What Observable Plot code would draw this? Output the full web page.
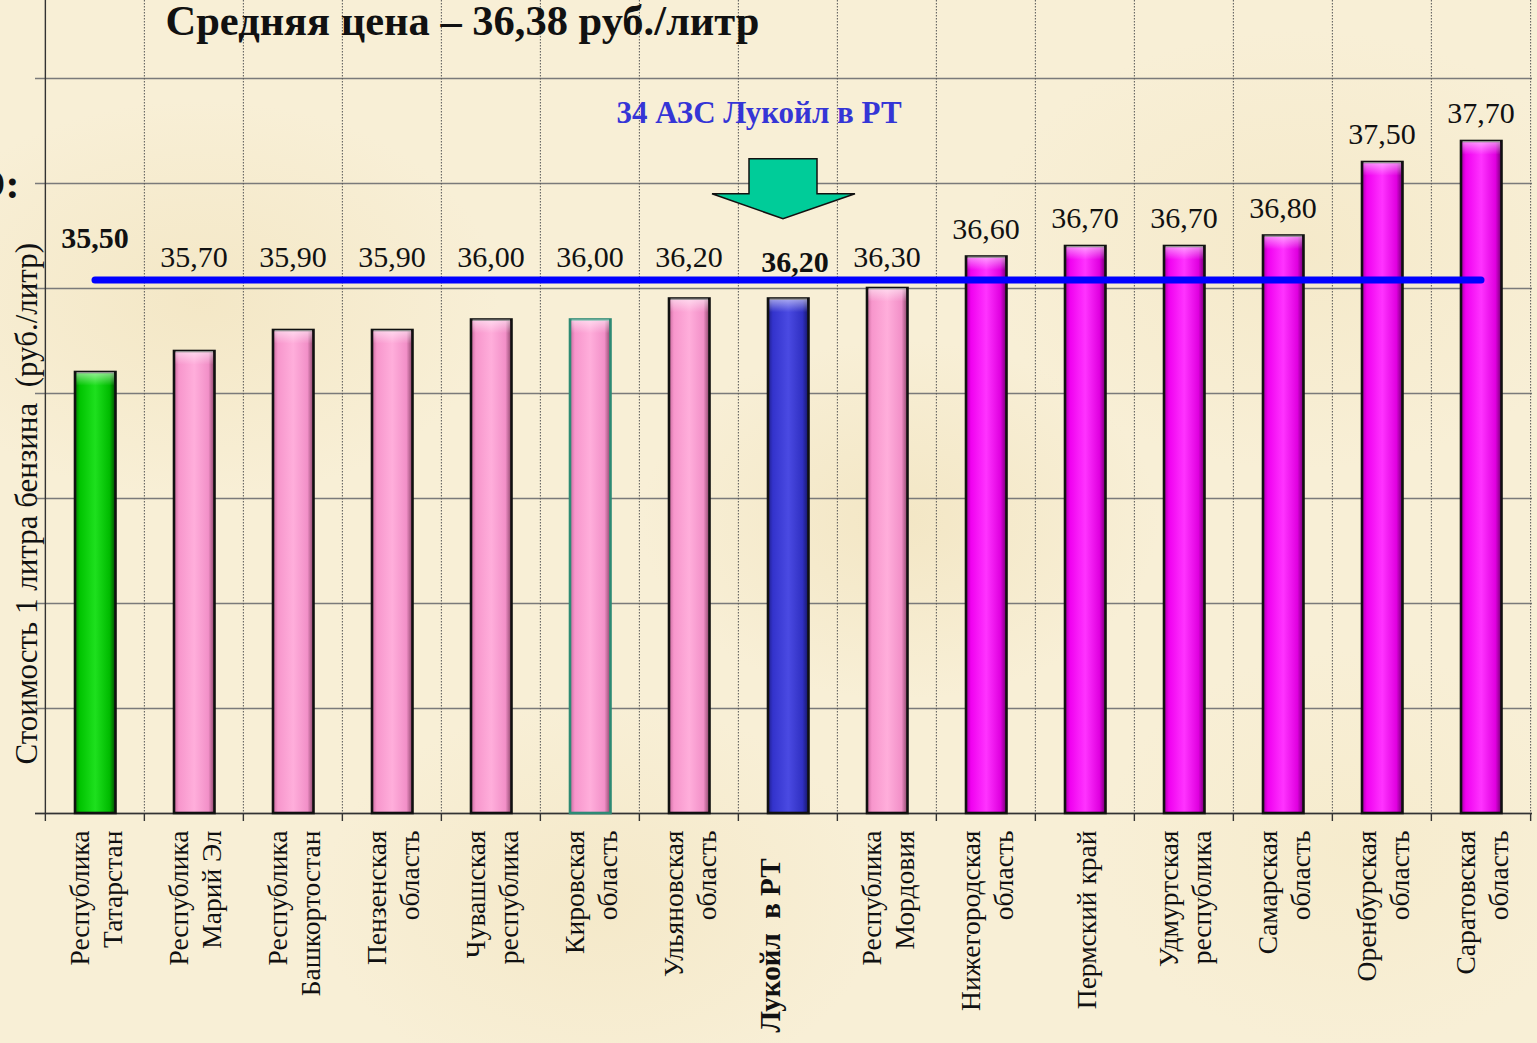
<!DOCTYPE html>
<html>
<head>
<meta charset="utf-8">
<script src="https://cdn.jsdelivr.net/npm/d3@7"></script>
<script src="https://cdn.jsdelivr.net/npm/@observablehq/plot@0.6"></script>
<style>
  html, body { margin: 0; padding: 0; overflow: hidden; }
  body {
    width: 1537px; height: 1043px;
    background-color: #f8efd6;
    background-image:
      radial-gradient(ellipse 300px 200px at 200px 300px, rgba(240,225,185,0.55), rgba(240,225,185,0)),
      radial-gradient(ellipse 260px 180px at 900px 520px, rgba(238,222,180,0.5), rgba(238,222,180,0)),
      radial-gradient(ellipse 320px 220px at 1300px 250px, rgba(242,228,190,0.5), rgba(242,228,190,0)),
      radial-gradient(ellipse 280px 200px at 600px 900px, rgba(240,225,185,0.45), rgba(240,225,185,0)),
      radial-gradient(ellipse 250px 200px at 1350px 850px, rgba(244,232,196,0.5), rgba(244,232,196,0));
  }
  #chart svg { display: block; overflow: visible; }
</style>
</head>
<body>
<div id="chart"></div>
<script>
// ---- data ----
const categories = [
  "Республика\nТатарстан",
  "Республика\nМарий Эл",
  "Республика\nБашкортостан",
  "Пензенская\nобласть",
  "Чувашская\nреспублика",
  "Кировская\nобласть",
  "Ульяновская\nобласть",
  "Лукойл  в РТ",
  "Республика\nМордовия",
  "Нижегородская\nобласть",
  "Пермский край",
  "Удмуртская\nреспублика",
  "Самарская\nобласть",
  "Оренбурская\nобласть",
  "Саратовская\nобласть"
];
const prices = [35.50, 35.70, 35.90, 35.90, 36.00, 36.00, 36.20, 36.20, 36.30, 36.60, 36.70, 36.70, 36.80, 37.50, 37.70];
const groups = ["РТ", "ниже", "ниже", "ниже", "ниже", "ниже", "ниже", "Лукойл", "ниже", "выше", "выше", "выше", "выше", "выше", "выше"];
const averagePrice = 36.38;
const yTicks = [31.3, 32.3, 33.3, 34.3, 35.3, 36.3, 37.3, 38.3];
const chartTitle = "Средняя цена – " + averagePrice.toFixed(2).replace(".", ",") + " руб./литр";
const yTitle = "Стоимость 1 литра бензина  (руб./литр)";
const noteText = "34 АЗС Лукойл в РТ";
const cutText = "О:";

const data = categories.map((c, i) => ({cat: c, value: prices[i], group: groups[i], i}));

// ---- layout ----
const W = 1537, H = 1043;
const mL = 43, mR = 5, mT = 0, mB = 230;
const bw = (W - mL - mR) / categories.length;
const pxPerUnit = 105;
const yMin = 31.3, yMax = yMin + (H - mB - mT) / pxPerUnit;

const serif = "'Liberation Serif', 'DejaVu Serif', serif";
const fmt = v => v.toFixed(2).replace(".", ",");
const gradId = {"РТ": "url(#gGreen)", "ниже": "url(#gPink)", "Лукойл": "url(#gBlue)", "выше": "url(#gMag)"};
const labelY = d => d.value >= 36.6 ? d.value + 0.265 : 36.6;

const barMarks = Object.keys(gradId).map(g =>
  Plot.barY(data.filter(d => d.group === g), {
    x: "cat", y1: yMin, y2: "value",
    insetLeft: 30, insetRight: 28.5,
    fill: gradId[g],
    stroke: d => d.i === 5 ? "#2d8a74" : "#111",
    strokeWidth: 2.6
  })
);

const arrowSymbol = {
  draw(ctx) {
    ctx.moveTo(-34, -30);
    ctx.lineTo(34, -30);
    ctx.lineTo(34, 5);
    ctx.lineTo(72, 5);
    ctx.lineTo(0, 30);
    ctx.lineTo(-71, 5);
    ctx.lineTo(-34, 5);
    ctx.closePath();
  }
};

const chart = Plot.plot({
  width: W, height: H,
  marginLeft: mL, marginRight: mR, marginTop: mT, marginBottom: mB,
  style: {background: "transparent", fontFamily: serif, overflow: "visible"},
  x: {domain: categories, padding: 0, axis: null},
  y: {domain: [yMin, yMax], axis: null},
  marks: [
    Plot.ruleY(yTicks, {stroke: "#7a7a7a", strokeWidth: 1.6, insetLeft: -8}),
    Plot.ruleX(categories.slice(1), {x: d => d, dx: -bw / 2, stroke: "#555", strokeWidth: 1, strokeDasharray: "1.5,1.5"}),
    Plot.ruleX([categories[categories.length - 1]], {x: d => d, dx: bw / 2, stroke: "#555", strokeWidth: 1, strokeDasharray: "1.5,1.5"}),
    Plot.ruleX([categories[0]], {x: d => d, dx: -bw / 2, stroke: "#333", strokeWidth: 1.4}),
    Plot.ruleX(categories, {x: d => d, dx: -bw / 2, y1: yMin, y2: yMin, insetBottom: -8, stroke: "#333", strokeWidth: 1.4}),
    Plot.ruleX([categories[categories.length - 1]], {x: d => d, dx: bw / 2, y1: yMin, y2: yMin, insetBottom: -8, stroke: "#333", strokeWidth: 1.4}),
    Plot.ruleY([yMin], {stroke: "#333", strokeWidth: 1.6, insetLeft: -8}),
    ...barMarks,
    Plot.rectY(data, {x: "cat", y1: "value", y2: d => d.value - 0.13, insetLeft: 31.5, insetRight: 30, fill: "url(#gBevel)"}),
    Plot.lineY(categories, {x: d => d, y: () => averagePrice, stroke: "#0000ff", strokeWidth: 7, strokeLinecap: "round"}),
    Plot.text(data.filter(d => d.i !== 0 && d.i !== 7), {x: "cat", y: labelY, text: d => fmt(d.value), fontSize: 30, fill: "#111"}),
    Plot.text(data.filter(d => d.i === 0), {x: "cat", y: labelY, text: d => fmt(d.value), fontSize: 30, fontWeight: "bold", fill: "#111", dy: -19}),
    Plot.text(data.filter(d => d.i === 7), {x: "cat", y: labelY, text: d => fmt(d.value), fontSize: 30, fontWeight: "bold", fill: "#111", dy: 5, dx: 7}),
    Plot.dot([categories[7]], {x: d => d, y: () => 37.25, dx: -5, symbol: arrowSymbol, r: 10, fill: "#00cc99", stroke: "#111", strokeWidth: 1.5}),
    Plot.text([noteText], {x: () => categories[7], y: () => 37.967, dx: -29, text: d => d, fontSize: 31, fontWeight: "bold", fill: "#3535d6"}),
    Plot.text([chartTitle], {frameAnchor: "top-left", dx: 122, dy: 21, lineAnchor: "middle", text: d => d, textAnchor: "start", fontSize: 42.5, fontWeight: "bold", fill: "#111"}),
    Plot.text([cutText], {frameAnchor: "top-left", dx: -24, dy: 184, lineAnchor: "middle", text: d => d, textAnchor: "end", fontSize: 42, fontWeight: "bold", fill: "#111"}),
    Plot.text([yTitle], {frameAnchor: "left", y: () => 34.25, dx: -16, text: d => d, rotate: -90, textAnchor: "middle", fontSize: 31, fill: "#111"}),
    Plot.text(data.filter(d => d.i !== 7), {x: "cat", frameAnchor: "bottom", dy: 17, text: "cat", rotate: -90, textAnchor: "end", lineAnchor: "middle", lineHeight: 1.2, fontSize: 27.5, fill: "#111", ariaLabel: "xlab"}),
    Plot.text(data.filter(d => d.i === 7), {x: "cat", frameAnchor: "bottom", dy: 45, dx: -8, text: "cat", rotate: -90, textAnchor: "end", fontSize: 29, fontWeight: "bold", fill: "#111"})
  ]
});

const defs = d3.select(chart).insert("defs", ":first-child");
function hGrad(id, stops) {
  const g = defs.append("linearGradient").attr("id", id).attr("x1", 0).attr("x2", 1).attr("y1", 0).attr("y2", 0);
  stops.forEach(([o, c]) => g.append("stop").attr("offset", o).attr("stop-color", c));
}
hGrad("gGreen", [[0, "#007a00"], [0.12, "#00c400"], [0.5, "#1ee01e"], [0.85, "#00bb00"], [1, "#004a00"]]);
hGrad("gPink", [[0, "#c8699c"], [0.12, "#f796cc"], [0.5, "#ffaedb"], [0.85, "#f290c8"], [1, "#8a4468"]]);
hGrad("gBlue", [[0, "#1f1f8c"], [0.12, "#3333cc"], [0.5, "#4a4ae2"], [0.85, "#3030c2"], [1, "#151566"]]);
hGrad("gMag", [[0, "#a300a3"], [0.12, "#f000f0"], [0.5, "#ff33ff"], [0.85, "#e000e0"], [1, "#700070"]]);
const bev = defs.append("linearGradient").attr("id", "gBevel").attr("x1", 0).attr("x2", 0).attr("y1", 0).attr("y2", 1);
bev.append("stop").attr("offset", 0).attr("stop-color", "#fff").attr("stop-opacity", 0.55);
bev.append("stop").attr("offset", 1).attr("stop-color", "#fff").attr("stop-opacity", 0);

document.getElementById("chart").append(chart);

d3.select(chart).selectAll('g[aria-label="xlab"] text').each(function () {
  const tspans = Array.from(this.querySelectorAll("tspan"));
  if (tspans.length < 2) return;
  let L = 0;
  tspans.forEach(t => { L = Math.max(L, t.getComputedTextLength()); });
  this.setAttribute("text-anchor", "middle");
  tspans.forEach(t => t.setAttribute("x", -L / 2));
});
</script>
</body>
</html>
